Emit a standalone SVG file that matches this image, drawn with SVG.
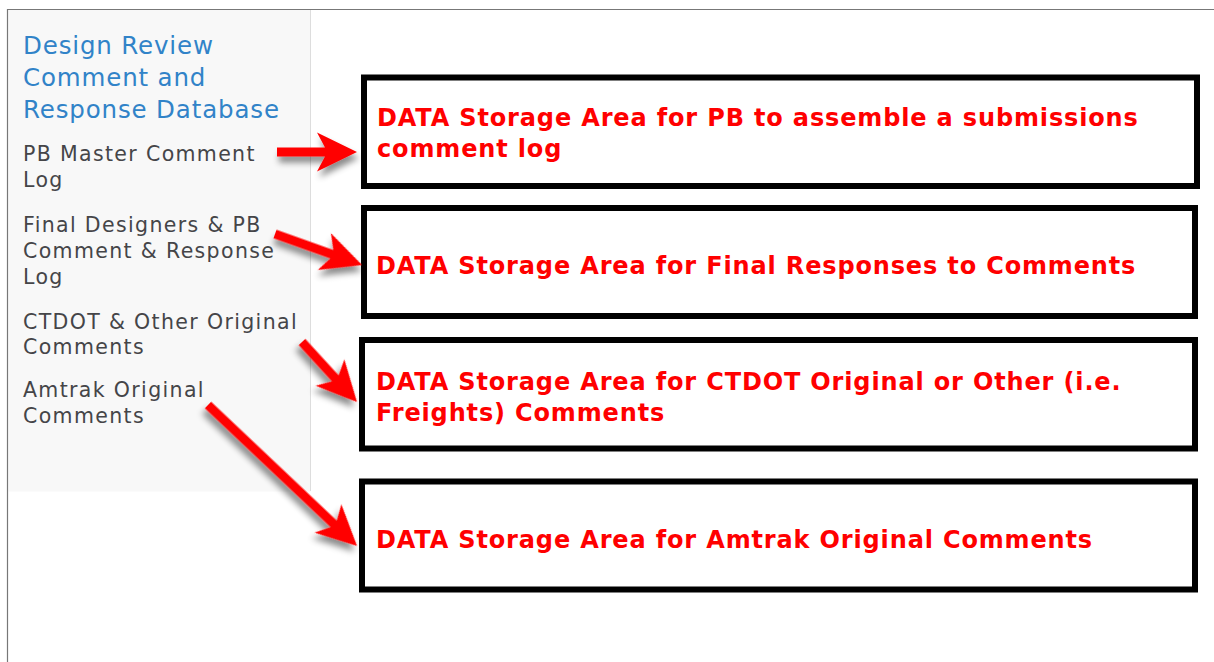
<svg xmlns="http://www.w3.org/2000/svg" width="1214" height="662" viewBox="0 0 1214 662">
<style>
.title{font-family:"DejaVu Sans",Verdana,sans-serif;font-size:24.5px;fill:#3183c8;letter-spacing:0.85px}
.item{font-family:"DejaVu Sans",Verdana,sans-serif;font-size:20.5px;fill:#454548;letter-spacing:1.35px}
.box{fill:#ffffff;stroke:#000000;stroke-width:6}
.lbl{font-family:"DejaVu Sans",Verdana,sans-serif;font-weight:bold;font-size:24px;fill:#ff0000;letter-spacing:0.85px}
.arrow{fill:#ff0000;filter:url(#sh)}
</style>
<defs>
<filter id="sh" x="-30%" y="-50%" width="160%" height="200%">
<feDropShadow dx="2" dy="6" stdDeviation="3" flood-color="#000" flood-opacity="0.45"/>
</filter>
</defs>
<rect x="0" y="0" width="1214" height="662" fill="#ffffff"/>
<g id="frame">
<rect x="8.5" y="9.5" width="302" height="482" fill="#f8f8f8"/>
<line x1="310.5" y1="10" x2="310.5" y2="491" stroke="#dddddd" stroke-width="1"/>
<line x1="7.5" y1="9" x2="7.5" y2="662" stroke="#777777" stroke-width="1.2"/>
<line x1="7" y1="9.5" x2="1214" y2="9.5" stroke="#777777" stroke-width="1.2"/>
</g>
<g id="sidebar">
<text class="title" x="23" y="54">Design Review</text>
<text class="title" x="23" y="86">Comment and</text>
<text class="title" x="23" y="117.5">Response Database</text>
<g id="item-pb"><text class="item" x="23" y="161">PB Master Comment</text><text class="item" x="23" y="187">Log</text></g>
<g id="item-final"><text class="item" x="23" y="232">Final Designers &amp; PB</text><text class="item" x="23" y="258">Comment &amp; Response</text><text class="item" x="23" y="283.5">Log</text></g>
<g id="item-ctdot"><text class="item" x="23" y="328.5">CTDOT &amp; Other Original</text><text class="item" x="23" y="353.5">Comments</text></g>
<g id="item-amtrak"><text class="item" x="23" y="397">Amtrak Original</text><text class="item" x="23" y="423">Comments</text></g>
</g>
<g id="box1"><rect class="box" x="364" y="77.5" width="833" height="108.5"/>
<text class="lbl" x="377" y="126">DATA Storage Area for PB to assemble a submissions</text>
<text class="lbl" x="377" y="157">comment log</text></g>
<g id="box2"><rect class="box" x="364" y="208" width="831" height="108"/>
<text class="lbl" x="376" y="274">DATA Storage Area for Final Responses to Comments</text></g>
<g id="box3"><rect class="box" x="362" y="340" width="833" height="108.5"/>
<text class="lbl" x="376" y="390">DATA Storage Area for CTDOT Original or Other (i.e.</text>
<text class="lbl" x="376" y="421">Freights) Comments</text></g>
<g id="box4"><rect class="box" x="362" y="481.5" width="833" height="108"/>
<text class="lbl" x="376" y="548">DATA Storage Area for Amtrak Original Comments</text></g>
<g id="connectors">
<path class="arrow" transform="translate(277,152)" d="M0,-4.5 H48 L40,-19.5 L80,0 L40,19.5 L48,4.5 H0 Z"/>
<path class="arrow" transform="translate(275,234) rotate(19.6)" d="M0,-4.5 H60.4 L52.4,-19.5 L92.4,0 L52.4,19.5 L60.4,4.5 H0 Z"/>
<path class="arrow" transform="translate(302,342) rotate(47.5)" d="M0,-4.5 H49.4 L41.4,-19.5 L81.4,0 L41.4,19.5 L49.4,4.5 H0 Z"/>
<path class="arrow" transform="translate(208,405) rotate(43.4)" d="M0,-4.5 H173.1 L165.1,-19.5 L205.1,0 L165.1,19.5 L173.1,4.5 H0 Z"/>
</g>
</svg>
